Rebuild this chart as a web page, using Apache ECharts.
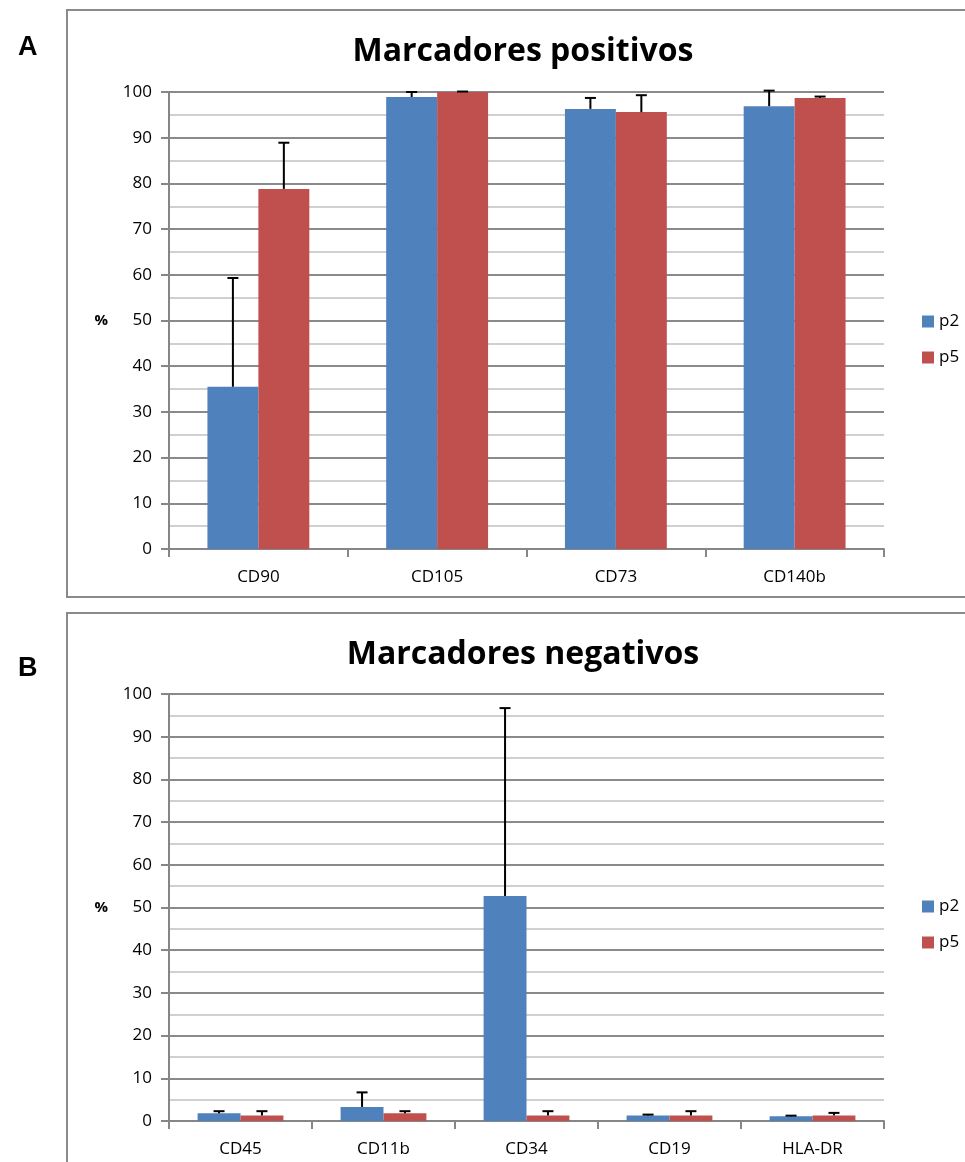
<!DOCTYPE html>
<html><head><meta charset="utf-8">
<script src="https://cdn.jsdelivr.net/npm/echarts@6/dist/echarts.min.js"></script>
<style>html,body{margin:0;padding:0;background:#fff}#c{width:965px;height:1162px}</style>
</head><body><div id="c"></div>
<script>
// Data
const seriesNames = ['p2', 'p5'];
const yTicks = [0, 10, 20, 30, 40, 50, 60, 70, 80, 90, 100];

const catPos = ['CD90', 'CD105', 'CD73', 'CD140b'];
const posP2 = [35.5, 98.9, 96.3, 96.9];
const posP2Err = [23.8, 1.1, 2.4, 3.4];
const posP5 = [78.8, 100, 95.6, 98.7];
const posP5Err = [10.1, 0.1, 3.7, 0.3];

const catNeg = ['CD45', 'CD11b', 'CD34', 'CD19', 'HLA-DR'];
const negP2 = [1.8, 3.3, 52.7, 1.3, 1.1];
const negP2Err = [0.5, 3.4, 44.0, 0.2, 0.15];
const negP5 = [1.3, 1.8, 1.3, 1.3, 1.3];
const negP5Err = [1.0, 0.5, 1.0, 1.0, 0.6];

const BLUE = '#4f81bd', RED = '#c0504d';
const FONT = 'Open Sans';
const gaps = [0.43, 0.40];

function yAxis(gi) {
  return {
    type: 'value', gridIndex: gi, min: yTicks[0], max: yTicks[yTicks.length - 1], interval: 10,
    name: '%', nameLocation: 'middle', nameRotate: 0, nameGap: 61,
    nameTextStyle: {fontFamily: FONT, fontSize: 15, fontWeight: 'bold', color: '#000'},
    axisLine: {show: true, lineStyle: {color: '#868686', width: 2}},
    axisTick: {show: true, length: 8, lineStyle: {color: '#868686', width: 2}},
    axisLabel: {fontFamily: FONT, fontSize: 17, color: '#000', margin: 17},
    splitLine: {show: true, lineStyle: {color: '#8a8a8a', width: 2}},
    minorTick: {show: false, splitNumber: 2},
    minorSplitLine: {show: true, lineStyle: {color: '#d0d0d0', width: 2}}
  };
}
function xAxis(gi, cats) {
  return {
    type: 'category', gridIndex: gi, data: cats,
    axisLine: {show: true, lineStyle: {color: '#868686', width: 2}},
    axisTick: {show: true, length: 8, lineStyle: {color: '#868686', width: 2}},
    axisLabel: {fontFamily: FONT, fontSize: 17, color: '#000', margin: 20},
    splitLine: {show: false}
  };
}
function bars(gi, name, vals, color, gap) {
  return {type: 'bar', name: name, xAxisIndex: gi, yAxisIndex: gi, data: vals,
    barGap: '0%', barCategoryGap: (gap * 100) + '%', itemStyle: {color: color}, z: 2};
}
function errs(gi, name, vals, err, side, gap) {
  return {
    type: 'custom', name: name, xAxisIndex: gi, yAxisIndex: gi, z: 5, silent: true,
    data: vals.map((v, i) => [i, v, err[i]]),
    renderItem: function (params, api) {
      const ci = api.value(0), v = api.value(1), e = api.value(2);
      const base = api.coord([ci, v]);
      const top = api.coord([ci, v + e]);
      const catW = api.size([1, 0])[0];
      const bw = catW * (1 - gap) / 2;
      const x = base[0] + side * bw / 2;
      const st = {stroke: '#000', lineWidth: 2};
      return {type: 'group', children: [
        {type: 'line', shape: {x1: x, y1: base[1], x2: x, y2: top[1]}, style: st},
        {type: 'line', shape: {x1: x - 5.5, y1: top[1], x2: x + 5.5, y2: top[1]}, style: st}
      ]};
    }
  };
}
function legend(top) {
  return {data: seriesNames, orient: 'vertical', left: 917, top: top, icon: 'rect',
    itemWidth: 12, itemHeight: 12, itemGap: 19, itemStyle: {borderWidth: 0},
    textStyle: {fontFamily: FONT, fontSize: 17, color: '#000'}};
}

const chart = echarts.init(document.getElementById('c'), null, {renderer: 'canvas'});
chart.setOption({
  animation: false,
  title: [
    {text: 'Marcadores positivos', left: 518, top: 31, textAlign: 'center',
      textStyle: {fontFamily: FONT, fontSize: 32, fontWeight: 'bold', color: '#000'}},
    {text: 'Marcadores negativos', left: 518, top: 634, textAlign: 'center',
      textStyle: {fontFamily: FONT, fontSize: 32, fontWeight: 'bold', color: '#000'}},
    {text: 'A', left: 13, top: 29, textStyle: {fontFamily: 'Liberation Sans', fontSize: 27, fontWeight: 'bold', color: '#000'}},
    {text: 'B', left: 13, top: 650, textStyle: {fontFamily: 'Liberation Sans', fontSize: 27, fontWeight: 'bold', color: '#000'}}
  ],
  legend: [legend(308), legend(893)],
  graphic: [
    {type: 'rect', shape: {x: 67, y: 10, width: 910, height: 587}, style: {fill: 'none', stroke: '#8a8a8a', lineWidth: 2}, z: -1},
    {type: 'rect', shape: {x: 67, y: 613, width: 910, height: 600}, style: {fill: 'none', stroke: '#8a8a8a', lineWidth: 2}, z: -1}
  ],
  grid: [
    {left: 169, right: 81, top: 92, height: 457},
    {left: 169, right: 81, top: 694, height: 427}
  ],
  xAxis: [xAxis(0, catPos), xAxis(1, catNeg)],
  yAxis: [yAxis(0), yAxis(1)],
  series: [
    bars(0, 'p2', posP2, BLUE, gaps[0]),
    bars(0, 'p5', posP5, RED, gaps[0]),
    errs(0, 'p2', posP2, posP2Err, -1, gaps[0]),
    errs(0, 'p5', posP5, posP5Err, 1, gaps[0]),
    bars(1, 'p2', negP2, BLUE, gaps[1]),
    bars(1, 'p5', negP5, RED, gaps[1]),
    errs(1, 'p2', negP2, negP2Err, -1, gaps[1]),
    errs(1, 'p5', negP5, negP5Err, 1, gaps[1])
  ]
});
</script></body></html>
